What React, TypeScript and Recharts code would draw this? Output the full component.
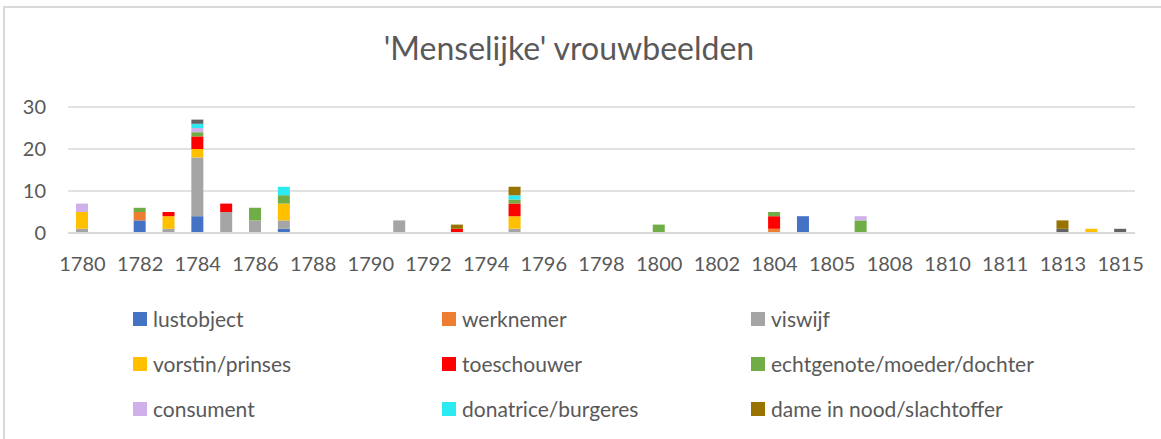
import { BarChart, Bar, XAxis, YAxis, CartesianGrid, Legend } from "recharts";

// jaartallen (categorie-as)
const years = [
  "1780", "1781", "1782", "1783", "1784", "1785", "1786", "1787", "1788", "1789",
  "1790", "1791", "1792", "1793", "1794", "1795", "1796", "1797", "1798", "1799",
  "1800", "1801", "1802", "1803", "1804", "1804", "1805", "1807", "1808", "1809",
  "1810", "1810", "1811", "1812", "1813", "1814", "1815",
];

const lustobject = [0, 0, 3, 0, 4, 0, 0, 1, 0, 0, 0, 0, 0, 0, 0, 0, 0, 0, 0, 0, 0, 0, 0, 0, 0, 4, 0, 0, 0, 0, 0, 0, 0, 0, 0, 0, 0];
const werknemer = [0, 0, 2, 0, 0, 0, 0, 0, 0, 0, 0, 0, 0, 0, 0, 0, 0, 0, 0, 0, 0, 0, 0, 0, 1, 0, 0, 0, 0, 0, 0, 0, 0, 0, 0, 0, 0];
const viswijf = [1, 0, 0, 1, 14, 5, 3, 2, 0, 0, 0, 3, 0, 0, 0, 1, 0, 0, 0, 0, 0, 0, 0, 0, 0, 0, 0, 0, 0, 0, 0, 0, 0, 0, 0, 0, 0];
const vorstin = [4, 0, 0, 3, 2, 0, 0, 4, 0, 0, 0, 0, 0, 0, 0, 3, 0, 0, 0, 0, 0, 0, 0, 0, 0, 0, 0, 0, 0, 0, 0, 0, 0, 0, 0, 1, 0];
const toeschouwer = [0, 0, 0, 1, 3, 2, 0, 0, 0, 0, 0, 0, 0, 1, 0, 3, 0, 0, 0, 0, 0, 0, 0, 0, 3, 0, 0, 0, 0, 0, 0, 0, 0, 0, 0, 0, 0];
const echtgenote = [0, 0, 1, 0, 1, 0, 3, 2, 0, 0, 0, 0, 0, 0, 0, 1, 0, 0, 0, 0, 2, 0, 0, 0, 1, 0, 0, 3, 0, 0, 0, 0, 0, 0, 0, 0, 0];
const consument = [2, 0, 0, 0, 1, 0, 0, 0, 0, 0, 0, 0, 0, 0, 0, 0, 0, 0, 0, 0, 0, 0, 0, 0, 0, 0, 0, 1, 0, 0, 0, 0, 0, 0, 0, 0, 0];
const donatrice = [0, 0, 0, 0, 1, 0, 0, 2, 0, 0, 0, 0, 0, 0, 0, 1, 0, 0, 0, 0, 0, 0, 0, 0, 0, 0, 0, 0, 0, 0, 0, 0, 0, 0, 0, 0, 0];
// donkergrijze reeks, niet zichtbaar in de legenda
const overig = [0, 0, 0, 0, 1, 0, 0, 0, 0, 0, 0, 0, 0, 0, 0, 0, 0, 0, 0, 0, 0, 0, 0, 0, 0, 0, 0, 0, 0, 0, 0, 0, 0, 0, 1, 0, 1];
const dameInNood = [0, 0, 0, 0, 0, 0, 0, 0, 0, 0, 0, 0, 0, 1, 0, 2, 0, 0, 0, 0, 0, 0, 0, 0, 0, 0, 0, 0, 0, 0, 0, 0, 0, 0, 2, 0, 0];

const yTicks = [0, 10, 20, 30];

const series = [
  { key: "lustobject", values: lustobject, color: "#4472C4", legend: true },
  { key: "werknemer", values: werknemer, color: "#ED7D31", legend: true },
  { key: "viswijf", values: viswijf, color: "#A5A5A5", legend: true },
  { key: "vorstin/prinses", values: vorstin, color: "#FFC000", legend: true },
  { key: "toeschouwer", values: toeschouwer, color: "#FF0000", legend: true },
  { key: "echtgenote/moeder/dochter", values: echtgenote, color: "#70AD47", legend: true },
  { key: "consument", values: consument, color: "#D0B0E8", legend: true },
  { key: "donatrice/burgeres", values: donatrice, color: "#2BEAF2", legend: true },
  { key: "overig", values: overig, color: "#636363", legend: false },
  { key: "dame in nood/slachtoffer", values: dameInNood, color: "#997300", legend: true },
];

const data = years.map((year, i) => {
  const row: Record<string, string | number> = { year };
  series.forEach((s) => {
    row[s.key] = s.values[i];
  });
  return row;
});

const FONT = "Lato, 'Open Sans', sans-serif";
const TEXT = "#595959";

const orderOf = (name: string) => series.findIndex((s) => s.key === name);

function renderLegend(props: any) {
  // zelfde volgorde als de reeksen, verborgen reeks eruit
  const payload = (props.payload || [])
    .filter((e: any) => e.type !== "none" && series[orderOf(e.value)]?.legend)
    .sort((a: any, b: any) => orderOf(a.value) - orderOf(b.value));
  return (
    <div style={{ display: "grid", gridTemplateColumns: "309px 309px 309px", fontFamily: FONT }}>
      {payload.map((entry: any) => (
        <div key={entry.value} style={{ display: "flex", alignItems: "center", height: 45 }}>
          <span style={{ width: 14, height: 14, background: entry.color, marginRight: 6, display: "inline-block" }} />
          <span style={{ fontSize: 21, color: TEXT }}>{entry.value}</span>
        </div>
      ))}
    </div>
  );
}

export default function App() {
  return (
    <div style={{ position: "absolute", left: 0, top: 0, width: 1161, height: 439, background: "#fff", overflow: "hidden" }}>
      <div style={{ position: "absolute", left: 3, top: 6, width: 1300, height: 600, border: "2px solid #D9D9D9" }} />
      <div
        style={{
          position: "absolute",
          left: 0,
          top: 28,
          width: 1138,
          textAlign: "center",
          fontFamily: FONT,
          fontSize: 32,
          color: TEXT,
        }}
      >
        'Menselijke' vrouwbeelden
      </div>
      <div style={{ position: "absolute", left: 0, top: 0 }}>
        <BarChart width={1161} height={439} data={data} margin={{ top: 107, right: 26, bottom: 166, left: 8 }}>
          <CartesianGrid vertical={false} stroke="#D9D9D9" strokeWidth={1.5} />
          <XAxis
            dataKey="year"
            interval={1}
            tickLine={false}
            axisLine={{ stroke: "#D9D9D9", strokeWidth: 2 }}
            tickSize={0}
            tickMargin={24}
            height={40}
            tick={{ fill: TEXT, fontSize: 20, fontFamily: FONT }}
          />
          <YAxis
            domain={[0, 30]}
            ticks={yTicks}
            width={60}
            axisLine={false}
            tickLine={false}
            tickSize={0}
            tickMargin={22}
            tick={{ fill: TEXT, fontSize: 20, fontFamily: FONT }}
          />
          <Legend
            layout="horizontal"
            verticalAlign="middle"
            align="center"
            wrapperStyle={{ top: 296, left: 133, width: 930 }}
            content={renderLegend}
          />
          {series.map((s) => (
            <Bar
              key={s.key}
              dataKey={s.key}
              stackId="a"
              fill={s.color}
              barSize={12}
              legendType={s.legend ? "square" : "none"}
              isAnimationActive={false}
            />
          ))}
        </BarChart>
      </div>
    </div>
  );
}
